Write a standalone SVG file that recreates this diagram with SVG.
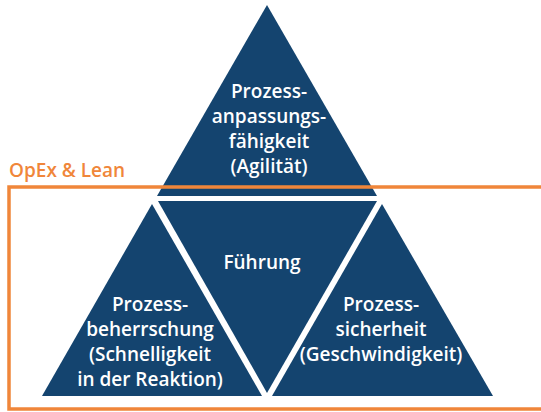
<svg xmlns="http://www.w3.org/2000/svg" width="541" height="412" viewBox="0 0 541 412">
  <style>
    .tri { fill: #14446f; }
    .lbl { font-family: "Open Sans", "Noto Sans", "Liberation Sans", sans-serif; font-size: 19px; font-weight: 600; fill: #ffffff; text-anchor: middle; }
    .frame { fill: none; stroke: #f0863a; stroke-width: 3.5; }
    .title { font-family: "Open Sans", "Noto Sans", "Liberation Sans", sans-serif; font-size: 19px; font-weight: 600; fill: #f0863a; }
  </style>
  <rect width="541" height="412" fill="#ffffff"/>

  <!-- top: process adaptability -->
  <g id="agilitaet">
    <polygon class="tri" points="267,5 157,196 377,196"/>
    <text class="lbl" x="269" y="98">Prozess-</text>
    <text class="lbl" x="269" y="123">anpassungs-</text>
    <text class="lbl" x="269" y="148">fähigkeit</text>
    <text class="lbl" x="269" y="173">(Agilität)</text>
  </g>

  <!-- centre: leadership (inverted) -->
  <g id="fuehrung">
    <polygon class="tri" points="158,201 377,201 267,393"/>
    <text class="lbl" x="262" y="269">Führung</text>
  </g>

  <!-- bottom left: process control -->
  <g id="beherrschung">
    <polygon class="tri" points="152,204 42,396 262,396"/>
    <text class="lbl" x="150" y="311">Prozess-</text>
    <text class="lbl" x="150" y="336">beherrschung</text>
    <text class="lbl" x="150" y="361">(Schnelligkeit</text>
    <text class="lbl" x="150" y="386">in der Reaktion)</text>
  </g>

  <!-- bottom right: process reliability -->
  <g id="sicherheit">
    <polygon class="tri" points="382,204 272,396 493,396"/>
    <text class="lbl" x="381" y="311">Prozess-</text>
    <text class="lbl" x="381" y="336">sicherheit</text>
    <text class="lbl" x="381" y="361">(Geschwindigkeit)</text>
  </g>

  <!-- OpEx & Lean frame -->
  <g id="opex">
    <rect class="frame" x="9" y="187" width="540" height="222"/>
    <text class="title" x="9" y="177">OpEx &amp; Lean</text>
  </g>

  <g id="connectors"/>
</svg>
